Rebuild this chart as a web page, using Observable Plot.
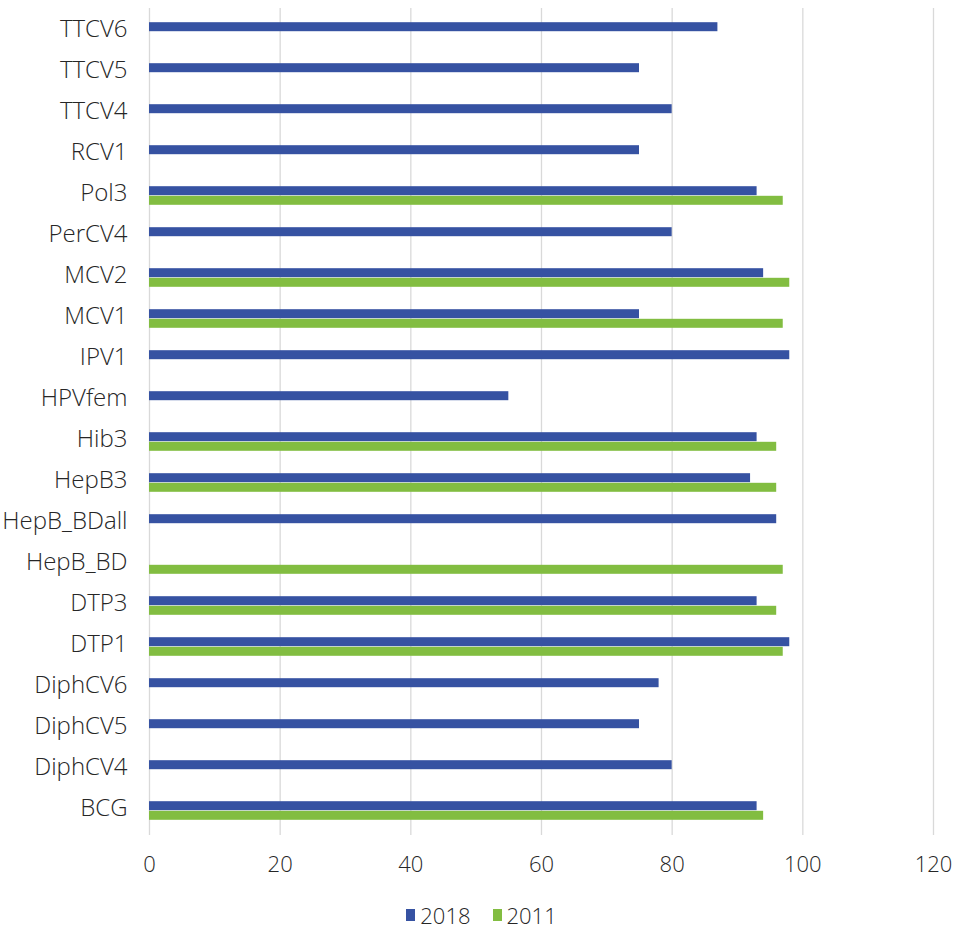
<!DOCTYPE html>
<html>
<head>
<meta charset="utf-8">
<script src="https://cdn.jsdelivr.net/npm/d3@7"></script>
<script src="https://cdn.jsdelivr.net/npm/@observablehq/plot@0.6"></script>
<style>
  html, body { margin: 0; padding: 0; background: #fff; }
  #chart { width: 959px; }
  .legend { display: flex; justify-content: center; align-items: center; gap: 22px;
    font-family: "Open Sans", "Liberation Sans", sans-serif; font-weight: 300; font-size: 22px; color: #262626;
    margin-top: 10px; padding-left: 4px; }
  .legend span.sw { display: inline-block; width: 9px; height: 12px; margin-right: 5px; }
  .legend .item { display: flex; align-items: center; }
</style>
</head>
<body>
<div id="chart"></div>
<script>
const categories = ["TTCV6","TTCV5","TTCV4","RCV1","Pol3","PerCV4","MCV2","MCV1","IPV1","HPVfem","Hib3","HepB3","HepB_BDall","HepB_BD","DTP3","DTP1","DiphCV6","DiphCV5","DiphCV4","BCG"];
const values2018 = [87, 75, 80, 75, 93, 80, 94, 75, 98, 55, 93, 92, 96, null, 93, 98, 78, 75, 80, 93];
const values2011 = [null, null, null, null, 97, null, 98, 97, null, null, 96, 96, null, 97, 96, 97, null, null, null, 94];
const seriesNames = ["2018", "2011"];
const seriesColors = ["#3652a2", "#82bd41"];
const xTicks = [0, 20, 40, 60, 80, 100, 120];

const data = [];
categories.forEach((c, i) => {
  if (values2018[i] != null) data.push({category: c, series: "2018", value: values2018[i]});
  if (values2011[i] != null) data.push({category: c, series: "2011", value: values2011[i]});
});

const bandH = (837 - 5) / categories.length;
const half = bandH / 2;
const barH = 9.6;

const chart = Plot.plot({
  width: 959,
  height: 890,
  marginLeft: 149,
  marginRight: 26,
  marginTop: 5,
  marginBottom: 53,
  style: { fontFamily: '"Open Sans", "Liberation Sans", sans-serif', fontWeight: 300, color: "#262626", background: "#fff" },
  x: { domain: [0, 120], ticks: xTicks, label: null },
  y: { domain: categories, padding: 0, label: null },
  color: { domain: seriesNames, range: seriesColors },
  marks: [
    Plot.ruleX(xTicks, { stroke: "#d9d9d9", strokeWidth: 1.3, insetTop: 3, insetBottom: 2 }),
    Plot.barX(data.filter(d => d.series === "2018"), {
      x: "value", y: "category", fill: "series",
      insetTop: half - barH, insetBottom: half
    }),
    Plot.barX(data.filter(d => d.series === "2011"), {
      x: "value", y: "category", fill: "series",
      insetTop: half, insetBottom: half - barH
    }),
    Plot.axisX(xTicks, { tickSize: 0, tickPadding: 19, fontSize: 22, label: null, fill: "#262626" }),
    Plot.axisY({ tickSize: 0, tickPadding: 22, fontSize: 24, label: null, fill: "#262626", dy: -3 })
  ]
});
document.getElementById("chart").appendChild(chart);

const legend = document.createElement("div");
legend.className = "legend";
seriesNames.forEach((s, i) => {
  const item = document.createElement("div");
  item.className = "item";
  const sw = document.createElement("span");
  sw.className = "sw";
  sw.style.background = seriesColors[i];
  item.appendChild(sw);
  item.appendChild(document.createTextNode(s));
  legend.appendChild(item);
});
document.getElementById("chart").appendChild(legend);
</script>
</body>
</html>
